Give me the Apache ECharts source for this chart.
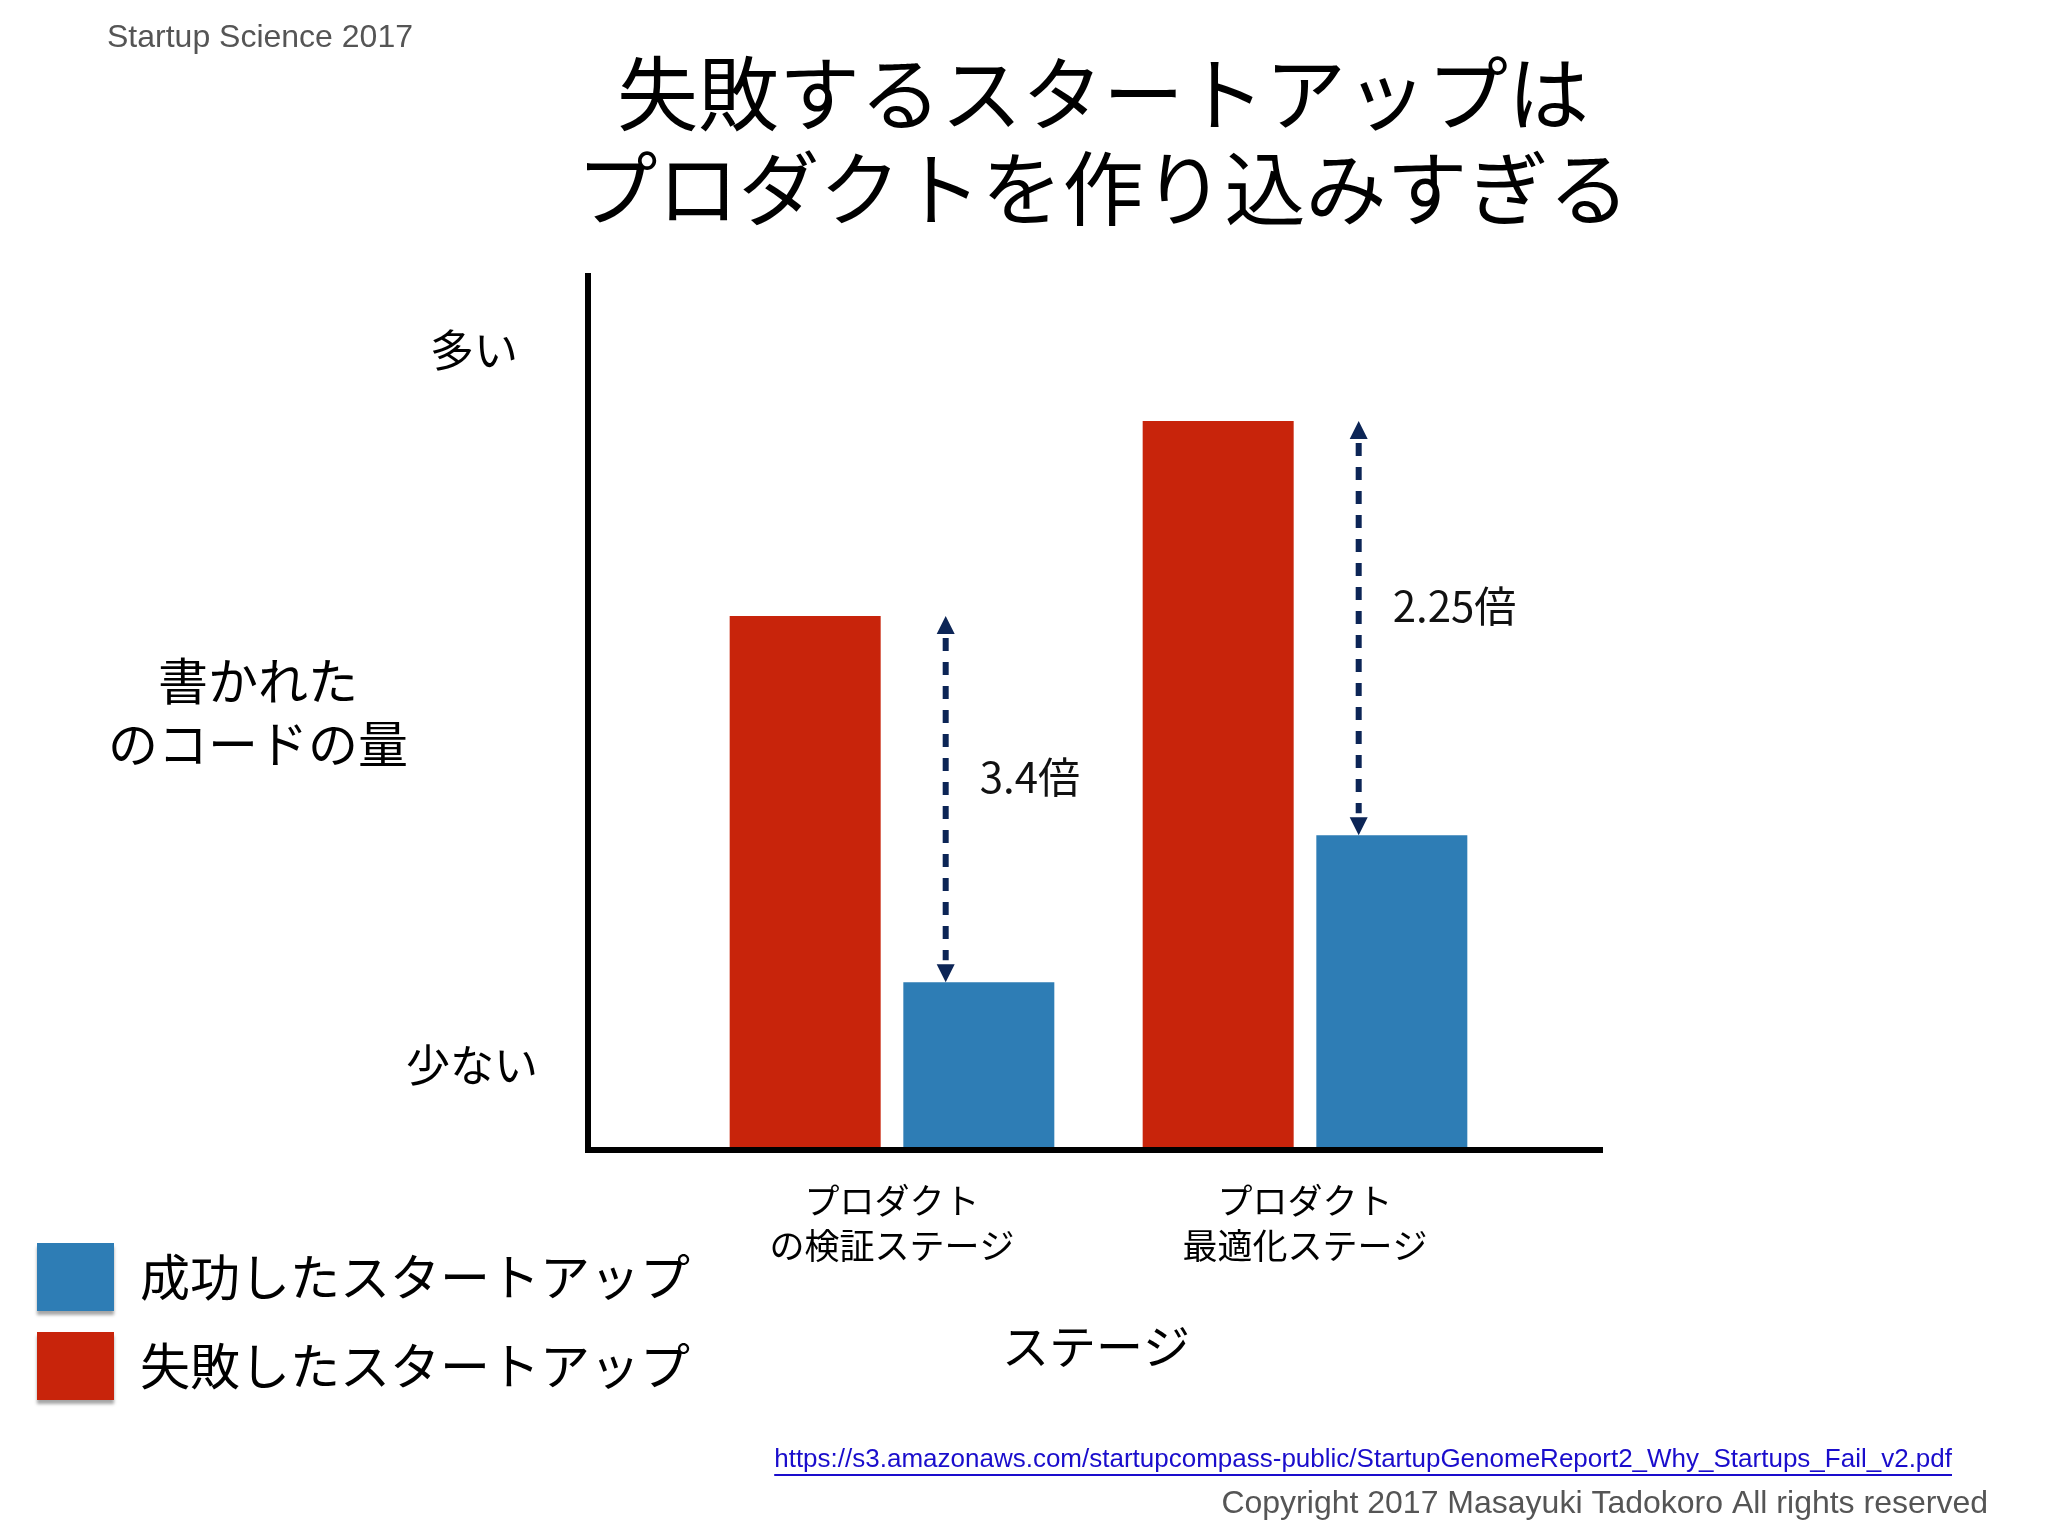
<!DOCTYPE html>
<html>
<head>
<meta charset="utf-8">
<script src="https://cdn.jsdelivr.net/npm/echarts@6/dist/echarts.min.js"></script>
<style>
html,body{margin:0;padding:0;background:#fff;}
#chart{width:2048px;height:1536px;}
</style>
</head>
<body>
<div id="chart"></div>
<script>
// ---- data ----
const categories = ['プロダクト\nの検証ステージ', 'プロダクト\n最適化ステージ'];
const failedValues = [61.1, 83.4];
const successValues = [19.2, 36.0];
const ratioLabels = ['3.4倍', '2.25倍'];
const seriesNames = ['失敗したスタートアップ', '成功したスタートアップ'];
const legendOrder = ['成功したスタートアップ', '失敗したスタートアップ'];
const yLevelLabels = ['多い', '少ない'];
const yAxisTitle = '書かれた\nのコードの量';
const xAxisTitle = 'ステージ';
const titleText = '失敗するスタートアップは\nプロダクトを作り込みすぎる';
const headerText = 'Startup Science 2017';
const sourceText = 'https://s3.amazonaws.com/startupcompass-public/StartupGenomeReport2_Why_Startups_Fail_v2.pdf';
const copyrightText = 'Copyright 2017 Masayuki Tadokoro All rights reserved';

const RED = '#C8240B';
const BLUE = '#2E7DB5';
const NAVY = '#0C2556';
const JP = '"Noto Sans CJK JP", "Noto Sans", sans-serif';
const LAT = '"Liberation Sans", Arial, sans-serif';

const chart = echarts.init(document.getElementById('chart'));

const arrowData = categories.map((c, i) => [i, failedValues[i], successValues[i]]);

const option = {
  backgroundColor: '#ffffff',
  animation: false,
  title: {
    text: titleText,
    left: 1098, top: 41, textAlign: 'center',
    textStyle: { fontFamily: JP, fontSize: 81, fontWeight: 'normal', color: '#000', lineHeight: 95 }
  },
  legend: {
    orient: 'vertical', left: 37, top: 1243, padding: 0,
    itemWidth: 77, itemHeight: 68, itemGap: 21,
    data: legendOrder, icon: 'rect',
    selectedMode: false,
    itemStyle: { shadowColor: 'rgba(0,0,0,0.35)', shadowBlur: 3, shadowOffsetY: 4 },
    textStyle: { fontFamily: JP, fontSize: 50, color: '#000', padding: [0, 0, 0, 21] }
  },
  grid: [
    { left: 685.5, width: 826, top: 276, bottom: 386 },
    { left: 588, width: 1012, top: 276, bottom: 386 }
  ],
  xAxis: [
    {
      type: 'category', gridIndex: 0, data: categories,
      axisLine: { show: false }, axisTick: { show: false }, splitLine: { show: false },
      axisLabel: { fontFamily: JP, fontSize: 35, lineHeight: 45, color: '#000', margin: 28, interval: 0 }
    },
    {
      type: 'value', gridIndex: 1, min: 0, max: 1, z: 10,
      axisLine: { show: true, lineStyle: { color: '#000', width: 6, cap: 'square' } },
      axisTick: { show: false }, axisLabel: { show: false }, splitLine: { show: false }
    }
  ],
  yAxis: [
    {
      type: 'value', gridIndex: 0, min: 0, max: 100, show: false,
      splitLine: { show: false }
    },
    {
      type: 'value', gridIndex: 1, min: 0, max: 1, z: 10,
      axisLine: { show: true, lineStyle: { color: '#000', width: 6, cap: 'square' } },
      axisTick: { show: false }, axisLabel: { show: false }, splitLine: { show: false }
    }
  ],
  series: [
    {
      name: seriesNames[0], type: 'bar', xAxisIndex: 0, yAxisIndex: 0,
      data: failedValues, barWidth: 151, barGap: '15%',
      itemStyle: { color: RED }
    },
    {
      name: seriesNames[1], type: 'bar', xAxisIndex: 0, yAxisIndex: 0,
      data: successValues, barWidth: 151,
      itemStyle: { color: BLUE }
    },
    {
      type: 'custom', xAxisIndex: 0, yAxisIndex: 0, z: 5,
      data: arrowData,
      renderItem: function (params, api) {
        const idx = api.value(0);
        const top = api.coord([idx, api.value(1)]);
        const bot = api.coord([idx, api.value(2)]);
        const band = api.size([1, 0])[0];
        const ax = top[0] + band * 0.13;
        const hh = 18, hw = 9;
        return {
          type: 'group',
          children: [
            { type: 'line', shape: { x1: ax, y1: top[1] + hh + 4, x2: ax, y2: bot[1] - hh - 4 },
              style: { stroke: NAVY, lineWidth: 6, lineDash: [13, 11] } },
            { type: 'polygon', shape: { points: [[ax, top[1]], [ax - hw, top[1] + hh], [ax + hw, top[1] + hh]] },
              style: { fill: NAVY } },
            { type: 'polygon', shape: { points: [[ax, bot[1]], [ax - hw, bot[1] - hh], [ax + hw, bot[1] - hh]] },
              style: { fill: NAVY } },
            { type: 'text', style: { text: ratioLabels[params.dataIndex], x: ax + 34, y: (top[1] + bot[1]) / 2 - 22,
              fill: '#111', font: '42px ' + JP, verticalAlign: 'middle', textAlign: 'left' } }
          ]
        };
      }
    }
  ],
  graphic: [
    { type: 'text', left: 107, top: 22, style: { text: headerText, font: '32px ' + LAT, fill: '#555' } },
    { type: 'text', x: 474, y: 350, style: { text: yLevelLabels[0], font: '44px ' + JP, fill: '#000', textAlign: 'center', textVerticalAlign: 'middle' } },
    { type: 'text', x: 472, y: 1065, style: { text: yLevelLabels[1], font: '44px ' + JP, fill: '#000', textAlign: 'center', textVerticalAlign: 'middle' } },
    { type: 'text', x: 258, y: 712, style: { text: yAxisTitle, font: '50px ' + JP, lineHeight: 63, fill: '#000', textAlign: 'center', textVerticalAlign: 'middle' } },
    { type: 'text', x: 1096, y: 1346, style: { text: xAxisTitle, font: '47px ' + JP, fill: '#000', textAlign: 'center', textVerticalAlign: 'middle' } },
    { type: 'text', x: 1952, y: 1460, style: { text: sourceText, font: '26px ' + LAT, fill: '#1a0dcc', textAlign: 'right', textVerticalAlign: 'middle' } },
    { type: 'text', x: 1988, y: 1504, style: { text: copyrightText, font: '32px ' + LAT, fill: '#555', textAlign: 'right', textVerticalAlign: 'middle' } }
  ]
};
chart.setOption(option);

// underline for the source link, sized from the rendered text
(function () {
  const ctx = document.createElement('canvas').getContext('2d');
  ctx.font = '26px "Liberation Sans", Arial, sans-serif';
  const w = ctx.measureText(sourceText).width;
  chart.setOption({
    graphic: option.graphic.concat([
      { type: 'line', shape: { x1: 1952 - w, y1: 1475, x2: 1952, y2: 1475 }, style: { stroke: '#1a0dcc', lineWidth: 2 } }
    ])
  });
})();
</script>
</body>
</html>
